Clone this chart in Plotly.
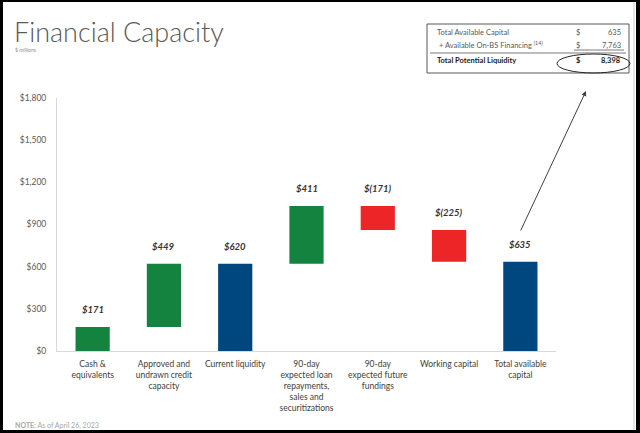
import plotly.graph_objects as go

categories = ["Cash &<br>equivalents", "Approved and<br>undrawn credit<br>capacity", "Current liquidity",
              "90-day<br>expected loan<br>repayments,<br>sales and<br>securitizations",
              "90-day<br>expected future<br>fundings", "Working capital", "Total available<br>capital"]
measures = ["relative", "relative", "total", "relative", "relative", "relative", "total"]
values = [171, 449, 0, 411, -171, -225, 0]
labels = ["$171", "$449", "$620", "$411", "$(171)", "$(225)", "$635"]
y_ticks = [0, 300, 600, 900, 1200, 1500, 1800]
y_ticktext = ["$0", "$300", "$600", "$900", "$1,200", "$1,500", "$1,800"]

table_rows = ["Total Available Capital", "+ Available On-BS Financing", "Total Potential Liquidity"]
table_vals = ["635", "7,763", "8,398"]

GREEN = "#13833F"
BLUE = "#004780"
RED = "#EE2526"
GRAY = "#595959"

W, H = 640, 433
L, R, T, B = 57, 84, 98, 82
PW, PH = W - L - R, H - T - B


def px(x):
    return (x - L) / PW


def py(y):
    return (H - B - y) / PH


fig = go.Figure(go.Waterfall(
    x=list(range(len(categories))), measure=measures, y=values,
    increasing=dict(marker=dict(color=GREEN)),
    decreasing=dict(marker=dict(color=RED)),
    totals=dict(marker=dict(color=BLUE)),
    connector=dict(visible=False),
    width=0.48, hoverinfo="skip", textinfo="none",
))

# value labels above bar tops
cum = 0
tops = []
for m, v in zip(measures, values):
    if m == "total":
        tops.append(cum)
    else:
        prev = cum
        cum += v
        tops.append(max(prev, cum))

annotations = []
for i, (t, lab) in enumerate(zip(tops, labels)):
    annotations.append(dict(x=i, y=t, xref="x", yref="y", text="<b><i>" + lab + "</i></b>",
                            showarrow=False, yanchor="bottom", yshift=10,
                            font=dict(size=9.5, color="#333333", family="Lato")))

# title
annotations.append(dict(x=px(12), y=py(31), xref="paper", yref="paper", text="Financial Capacity",
                        showarrow=False, xanchor="left", yanchor="middle",
                        font=dict(size=27, color=GRAY, family="Lato", weight=300)))
annotations.append(dict(x=px(13), y=py(50), xref="paper", yref="paper", text="$ millions",
                        showarrow=False, xanchor="left", yanchor="middle",
                        font=dict(size=5, color="#8c8c8c", family="Lato")))
# note
annotations.append(dict(x=px(13), y=py(425), xref="paper", yref="paper",
                        text="<b>NOTE:</b> As of April 26, 2023",
                        showarrow=False, xanchor="left", yanchor="middle",
                        font=dict(size=7, color="#a6a6a6", family="Lato")))

# table texts
row_y = [33, 45, 61]
for i, (r, v) in enumerate(zip(table_rows, table_vals)):
    bold = i == 2
    txt = r
    if i == 1:
        txt = r + " <sup>(14)</sup>"
    col = "#1a1a1a" if bold else GRAY
    annotations.append(dict(x=px(435 if i != 1 else 437), y=py(row_y[i]), xref="paper", yref="paper",
                            text=("<b>%s</b>" % txt) if bold else txt, showarrow=False,
                            xanchor="left", yanchor="middle", font=dict(size=7.5, color=col, family="Lato")))
    annotations.append(dict(x=px(578), y=py(row_y[i]), xref="paper", yref="paper",
                            text=("<b>$</b>" if bold else "$"), showarrow=False,
                            xanchor="center", yanchor="middle", font=dict(size=7.5, color=col, family="Lato")))
    annotations.append(dict(x=px(623), y=py(row_y[i]), xref="paper", yref="paper",
                            text=("<b>%s</b>" % v) if bold else v, showarrow=False,
                            xanchor="right", yanchor="middle", font=dict(size=7.5, color=col, family="Lato")))

# arrow from last bar to table
annotations.append(dict(x=px(586), y=py(91), xref="paper", yref="paper", ax=-66, ay=141,
                        axref="pixel", ayref="pixel", showarrow=True, arrowhead=2, arrowsize=1,
                        arrowwidth=1, arrowcolor="#404040", text=""))

shapes = [
    # table box
    dict(type="rect", xref="paper", yref="paper", x0=px(427), x1=px(629), y0=py(24), y1=py(73),
         line=dict(color="#595959", width=1), fillcolor="rgba(0,0,0,0)"),
    dict(type="line", xref="paper", yref="paper", x0=px(574), x1=px(624), y0=py(50), y1=py(50),
         line=dict(color="#595959", width=0.8)),
    dict(type="line", xref="paper", yref="paper", x0=px(430), x1=px(626), y0=py(53), y1=py(53),
         line=dict(color="#595959", width=0.8)),
    # ellipse
    dict(type="circle", xref="paper", yref="paper", x0=px(557), x1=px(630), y0=py(54), y1=py(73),
         line=dict(color="#262626", width=1)),
    # frame
    dict(type="rect", xref="paper", yref="paper", x0=px(0), x1=px(3), y0=py(0), y1=py(H),
         line=dict(width=0), fillcolor="black"),
    dict(type="rect", xref="paper", yref="paper", x0=px(0), x1=px(W), y0=py(0), y1=py(2),
         line=dict(width=0), fillcolor="black"),
    dict(type="rect", xref="paper", yref="paper", x0=px(636), x1=px(W), y0=py(0), y1=py(H),
         line=dict(width=0), fillcolor="black"),
    dict(type="rect", xref="paper", yref="paper", x0=px(0), x1=px(W), y0=py(430), y1=py(H),
         line=dict(width=0), fillcolor="black"),
    dict(type="line", xref="paper", yref="paper", x0=px(634), x1=px(634), y0=py(2), y1=py(430),
         line=dict(color="#cccccc", width=1)),
]

fig.update_layout(
    width=W, height=H, margin=dict(l=L, r=R, t=T, b=B),
    paper_bgcolor="white", plot_bgcolor="white", showlegend=False,
    font=dict(family="Lato", color=GRAY),
    annotations=annotations, shapes=shapes,
    xaxis=dict(tickmode="array", tickvals=list(range(len(categories))), ticktext=categories,
               range=[-0.5, len(categories) - 0.5], showline=True, linecolor="#d9d9d9", linewidth=1,
               ticks="", showgrid=False, zeroline=False, ticklabelstandoff=5,
               tickfont=dict(size=8.5, color="#404040", family="Lato")),
    yaxis=dict(range=[0, 1800], tickmode="array", tickvals=y_ticks, ticktext=y_ticktext,
               showline=True, linecolor="#d9d9d9", linewidth=1, ticks="", showgrid=False,
               zeroline=False, ticklabelstandoff=8,
               tickfont=dict(size=8.5, color=GRAY, family="Lato")),
)

fig.write_html("out.html", config={"displayModeBar": False},
               post_script="document.body.style.margin='0';document.body.style.padding='0';"
                           "document.body.style.overflow='hidden';")
